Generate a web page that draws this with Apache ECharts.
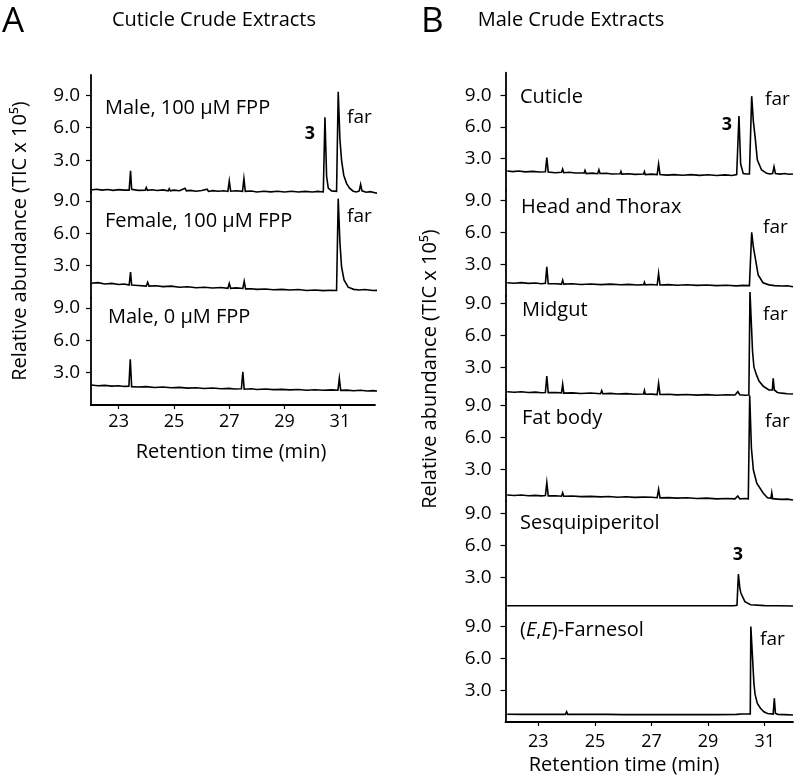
<!DOCTYPE html>
<html>
<head>
<meta charset="utf-8">
<script src="https://cdn.jsdelivr.net/npm/echarts@6/dist/echarts.min.js"></script>
<style>
html,body{margin:0;padding:0;background:#fff;}
#chart{width:796px;height:780px;}
</style>
</head>
<body>
<div id="chart"></div>
<script>
// ---------- DATA (retention time in min, abundance in TIC x 10^5) ----------
const xTicks = [23, 25, 27, 29, 31];
const yTicks = [3, 6, 9];

const panelATitle = 'Cuticle Crude Extracts';
const panelBTitle = 'Male Crude Extracts';
const panelANames = ['Male, 100 µM FPP', 'Female, 100 µM FPP', 'Male, 0 µM FPP'];
const panelBNames = ['Cuticle', 'Head and Thorax', 'Midgut', 'Fat body', 'Sesquipiperitol', '(E,E)-Farnesol'];

const aMale100 = [[22.0,0.23],[22.2,0.3],[22.4,0.22],[22.6,0.28],[22.8,0.2],[23.0,0.27],[23.2,0.22],[23.38,0.22],[23.43,2.0],[23.47,0.3],[23.7,0.2],[23.96,0.22],[24.0,0.45],[24.04,0.2],[24.2,0.26],[24.4,0.18],[24.6,0.24],[24.79,0.15],[24.83,0.35],[24.87,0.15],[25.0,0.22],[25.2,0.16],[25.4,0.4],[25.45,0.15],[25.6,0.2],[25.8,0.12],[26.0,0.18],[26.2,0.3],[26.25,0.1],[26.4,0.17],[26.6,0.12],[26.8,0.16],[26.95,0.1],[27.0,1.06],[27.05,0.12],[27.25,0.16],[27.48,0.1],[27.53,1.28],[27.58,0.1],[27.8,0.14],[28.0,0.05],[28.25,0.12],[28.5,0.06],[28.75,0.12],[29.0,0.05],[29.25,0.11],[29.5,0.05],[29.75,0.1],[30.0,0.05],[30.2,0.1],[30.4,0.05],[30.46,6.96],[30.52,1.5],[30.58,0.4],[30.7,0.15],[30.88,0.1],[30.94,9.33],[31.0,5.0],[31.06,3.0],[31.14,1.6],[31.24,0.85],[31.35,0.4],[31.48,0.12],[31.6,0.05],[31.7,0.15],[31.75,0.76],[31.8,0.15],[31.95,0.02],[32.1,0.08],[32.3,-0.05],[32.5,-0.1]];
const aFemale100 = [[22.0,1.36],[22.25,1.42],[22.5,1.3],[22.75,1.35],[23.0,1.25],[23.2,1.3],[23.38,1.2],[23.43,2.4],[23.47,1.2],[23.7,1.16],[24.0,1.1],[24.05,1.45],[24.1,1.1],[24.35,1.14],[24.6,1.05],[24.9,1.1],[25.2,1.0],[25.5,1.04],[25.8,0.95],[26.1,1.0],[26.4,0.93],[26.7,0.97],[26.95,0.9],[27.0,1.35],[27.05,0.9],[27.25,0.94],[27.49,0.88],[27.54,1.55],[27.59,0.85],[27.8,0.86],[28.0,0.8],[28.3,0.84],[28.6,0.76],[28.9,0.8],[29.2,0.74],[29.5,0.78],[29.8,0.7],[30.1,0.74],[30.4,0.68],[30.65,0.72],[30.88,0.7],[30.94,9.2],[31.0,5.2],[31.06,2.9],[31.15,1.67],[31.3,1.0],[31.5,0.8],[31.7,0.74],[31.9,0.78],[32.2,0.7],[32.5,0.72]];
const aMale0 = [[22.0,1.85],[22.25,1.78],[22.5,1.82],[22.75,1.75],[23.0,1.78],[23.2,1.72],[23.37,1.74],[23.42,4.23],[23.47,1.7],[23.7,1.66],[24.0,1.7],[24.3,1.62],[24.6,1.66],[24.9,1.6],[25.2,1.63],[25.5,1.56],[25.8,1.6],[26.1,1.53],[26.4,1.57],[26.7,1.5],[27.0,1.54],[27.2,1.48],[27.44,1.5],[27.49,3.08],[27.54,1.46],[27.8,1.5],[28.0,1.44],[28.3,1.48],[28.6,1.42],[28.9,1.45],[29.2,1.4],[29.5,1.43],[29.8,1.37],[30.1,1.41],[30.4,1.36],[30.7,1.4],[30.93,1.37],[30.98,2.47],[31.03,1.35],[31.25,1.38],[31.5,1.32],[31.75,1.36],[32.0,1.3],[32.2,1.33],[32.4,1.28]];

const bCuticle = [[21.9,1.84],[22.1,1.78],[22.3,1.84],[22.55,1.76],[22.8,1.8],[23.05,1.74],[23.25,1.77],[23.3,3.1],[23.35,1.75],[23.6,1.68],[23.82,1.72],[23.86,2.03],[23.9,1.68],[24.1,1.72],[24.3,1.65],[24.62,1.66],[24.65,1.9],[24.69,1.6],[24.9,1.64],[25.1,1.58],[25.14,1.95],[25.18,1.6],[25.4,1.62],[25.6,1.55],[25.89,1.58],[25.92,1.8],[25.95,1.55],[26.2,1.58],[26.4,1.52],[26.72,1.55],[26.75,1.78],[26.78,1.5],[27.0,1.54],[27.2,1.5],[27.25,2.5],[27.3,1.5],[27.55,1.45],[27.8,1.5],[28.1,1.44],[28.4,1.5],[28.7,1.43],[29.0,1.48],[29.3,1.42],[29.6,1.47],[29.85,1.42],[30.01,1.5],[30.09,7.03],[30.15,2.5],[30.24,1.6],[30.35,1.55],[30.46,1.55],[30.54,8.9],[30.6,6.5],[30.66,5.08],[30.74,2.88],[30.89,1.93],[31.07,1.62],[31.18,1.56],[31.28,1.6],[31.33,2.25],[31.38,1.6],[31.55,1.55],[31.7,1.6],[31.85,1.53],[32.0,1.56]];
const bHeadThorax = [[21.9,1.25],[22.15,1.2],[22.4,1.26],[22.65,1.19],[22.9,1.23],[23.1,1.16],[23.25,1.2],[23.3,2.76],[23.35,1.15],[23.6,1.16],[23.82,1.12],[23.86,1.5],[23.9,1.12],[24.2,1.15],[24.5,1.08],[24.85,1.13],[25.2,1.07],[25.55,1.12],[25.9,1.06],[26.2,1.1],[26.5,1.04],[26.72,1.07],[26.75,1.3],[26.78,1.05],[27.0,1.08],[27.2,1.04],[27.25,2.14],[27.3,1.04],[27.6,1.07],[27.9,1.02],[28.25,1.06],[28.6,1.0],[28.95,1.04],[29.3,0.98],[29.65,1.02],[30.0,0.96],[30.25,1.0],[30.46,0.98],[30.54,6.0],[30.6,4.6],[30.66,3.7],[30.77,1.98],[30.94,1.25],[31.15,1.05],[31.35,0.98],[31.6,0.94],[31.8,0.97],[32.0,0.88]];
const bMidgut = [[21.9,0.69],[22.15,0.64],[22.4,0.68],[22.65,0.61],[22.9,0.65],[23.1,0.59],[23.25,0.62],[23.3,2.17],[23.35,0.6],[23.6,0.62],[23.82,0.58],[23.86,1.39],[23.9,0.55],[24.2,0.58],[24.5,0.52],[24.85,0.56],[25.2,0.5],[25.24,0.8],[25.28,0.5],[25.55,0.53],[25.8,0.47],[26.1,0.51],[26.4,0.45],[26.72,0.47],[26.75,0.8],[26.78,0.45],[27.0,0.46],[27.2,0.42],[27.25,1.48],[27.3,0.42],[27.6,0.45],[27.9,0.39],[28.25,0.43],[28.6,0.37],[28.95,0.41],[29.3,0.36],[29.65,0.4],[29.95,0.38],[30.05,0.69],[30.12,0.4],[30.3,0.36],[30.44,0.38],[30.48,10.1],[30.57,4.5],[30.62,3.0],[30.72,2.2],[30.8,1.7],[30.95,1.2],[31.15,0.85],[31.27,0.85],[31.3,1.95],[31.34,0.85],[31.45,0.62],[31.6,0.55],[31.8,0.5],[32.0,0.47]];
const bFatBody = [[21.9,0.57],[22.15,0.52],[22.4,0.57],[22.65,0.5],[22.9,0.53],[23.1,0.48],[23.25,0.51],[23.3,1.73],[23.35,0.48],[23.6,0.5],[23.82,0.45],[23.86,0.78],[23.9,0.45],[24.2,0.47],[24.5,0.41],[24.85,0.44],[25.2,0.39],[25.5,0.42],[25.8,0.36],[26.1,0.4],[26.4,0.34],[26.72,0.37],[26.75,0.55],[26.78,0.33],[27.0,0.35],[27.2,0.31],[27.25,1.1],[27.3,0.3],[27.6,0.32],[27.9,0.27],[28.25,0.3],[28.6,0.24],[28.95,0.27],[29.3,0.2],[29.65,0.24],[29.95,0.2],[30.05,0.47],[30.12,0.2],[30.3,0.23],[30.42,0.2],[30.47,9.95],[30.53,5.0],[30.6,2.92],[30.72,1.67],[30.95,0.73],[31.1,0.3],[31.22,0.25],[31.25,0.78],[31.28,0.22],[31.45,0.18],[31.6,0.15],[31.8,0.18],[32.0,0.1]];
const bSesquipiperitol = [[21.9,0.31],[22.5,0.31],[23.0,0.3],[23.5,0.3],[24.0,0.3],[24.61,0.3],[24.65,0.4],[24.69,0.3],[25.1,0.3],[25.14,0.42],[25.18,0.3],[25.9,0.3],[25.93,0.38],[25.96,0.3],[26.8,0.3],[27.6,0.3],[28.4,0.3],[29.2,0.3],[29.9,0.3],[30.02,0.35],[30.07,3.3],[30.12,2.0],[30.16,1.48],[30.3,0.69],[30.5,0.4],[31.0,0.32],[31.5,0.3],[32.0,0.28]];
const bFarnesol = [[21.9,0.73],[22.4,0.72],[22.9,0.72],[23.42,0.72],[23.45,0.8],[23.48,0.72],[23.96,0.72],[24.0,0.97],[24.04,0.72],[24.6,0.72],[25.36,0.72],[25.4,0.8],[25.44,0.72],[26.0,0.7],[26.7,0.7],[27.3,0.7],[27.9,0.7],[28.6,0.7],[29.3,0.7],[30.0,0.72],[30.05,0.8],[30.2,0.75],[30.49,0.75],[30.51,9.0],[30.58,9.0],[30.62,3.6],[30.66,2.6],[30.74,1.76],[30.85,1.3],[30.97,0.97],[31.1,0.8],[31.3,0.75],[31.34,2.24],[31.38,0.8],[31.42,0.75],[31.44,0.95],[31.47,0.72],[31.7,0.7],[32.0,0.66]];

const panelAData = [aMale100, aFemale100, aMale0];
const panelBData = [bCuticle, bHeadThorax, bMidgut, bFatBody, bSesquipiperitol, bFarnesol];

// ---------- LAYOUT ----------
const FONT = '"Open Sans", "DejaVu Sans", sans-serif';
const layoutA = { left: 91, right: 421, xMin: 22.0, xMax: 32.27, scale: 10.8, bounds: [75, 192.5, 298, 405], labelMargin: 11, xLabelMargin: 8 };
const layoutB = { left: 505.5, right: 3, xMin: 21.84, xMax: 32.0, scale: 10.6, bounds: [72.7, 190.5, 296, 399, 501, 609, 722], labelMargin: 14, xLabelMargin: 11 };

const grids = [], xAxes = [], yAxes = [], series = [];

function addPanel(L, datasets) {
  const n = datasets.length;
  for (let i = 0; i < n; i++) {
    const top = L.bounds[i], h = L.bounds[i + 1] - L.bounds[i];
    const idx = grids.length;
    const isBottom = i === n - 1;
    grids.push({ left: L.left, right: L.right, top: top, height: h, containLabel: false });
    xAxes.push({
      type: 'value', gridIndex: idx, min: L.xMin, max: L.xMax, show: isBottom,
      axisLine: { show: true, lineStyle: { color: '#000', width: 1.8 } },
      axisTick: { show: true, customValues: xTicks, length: 4, lineStyle: { color: '#000', width: 1.2 } },
      axisLabel: { customValues: xTicks, color: '#000', fontSize: 18, fontFamily: FONT, margin: L.xLabelMargin },
      splitLine: { show: false }
    });
    yAxes.push({
      type: 'value', gridIndex: idx, min: 0, max: h / L.scale,
      axisLine: { show: true, lineStyle: { color: '#000', width: 1.8 } },
      axisTick: { show: true, customValues: yTicks, length: 5, lineStyle: { color: '#000', width: 1.2 } },
      axisLabel: { customValues: yTicks, color: '#000', fontSize: 19, fontFamily: FONT, margin: L.labelMargin,
                   formatter: v => Number(v).toFixed(1) },
      splitLine: { show: false }
    });
    series.push({
      type: 'line', xAxisIndex: idx, yAxisIndex: idx, data: datasets[i],
      symbol: 'none', showSymbol: false, clip: false, silent: true,
      lineStyle: { color: '#000', width: 1.6, join: 'miter' }
    });
  }
}
addPanel(layoutA, panelAData);
addPanel(layoutB, panelBData);

function txt(x, y, text, opt) {
  opt = opt || {};
  return {
    type: 'text', x: x, y: y, rotation: opt.rotation || 0, silent: true,
    style: {
      text: text, fontSize: opt.size || 20, fontFamily: FONT, fontWeight: opt.weight || 'normal',
      fill: '#000', align: opt.align || 'left', verticalAlign: 'middle', rich: opt.rich
    }
  };
}
const richE = { i: { fontStyle: 'italic', fontSize: 20, fontFamily: FONT, fill: '#000' } };
const yTitle = 'Relative abundance (TIC x 10⁵)';
const xTitle = 'Retention time (min)';

const graphics = [
  txt(2, 22, 'A', { size: 35 }),
  txt(214, 20, panelATitle, { align: 'center' }),
  txt(421, 22, 'B', { size: 35 }),
  txt(571, 20, panelBTitle, { align: 'center' }),
  // Panel A sub-labels
  txt(105, 108, panelANames[0]),
  txt(105, 221, panelANames[1]),
  txt(108, 317, panelANames[2]),
  txt(310, 134, '3', { align: 'center', weight: 'bold', size: 18 }),
  txt(347, 118, 'far', { size: 19 }),
  txt(347, 217, 'far', { size: 19 }),
  // Panel B sub-labels
  txt(520, 97, panelBNames[0]),
  txt(521, 207, panelBNames[1]),
  txt(522, 310, panelBNames[2]),
  txt(522, 418, panelBNames[3]),
  txt(520, 523, panelBNames[4]),
  txt(520, 630, '({i|E},{i|E})-Farnesol', { rich: richE }),
  txt(727, 125, '3', { align: 'center', weight: 'bold', size: 18 }),
  txt(765, 100, 'far', { size: 19 }),
  txt(763, 228, 'far', { size: 19 }),
  txt(763, 315, 'far', { size: 19 }),
  txt(765, 422, 'far', { size: 19 }),
  txt(738, 555, '3', { align: 'center', weight: 'bold', size: 18 }),
  txt(760, 640, 'far', { size: 19 }),
  // axis titles
  txt(20, 241, yTitle, { align: 'center', rotation: Math.PI / 2 }),
  txt(430, 369, yTitle, { align: 'center', rotation: Math.PI / 2 }),
  txt(231, 452, xTitle, { align: 'center' }),
  txt(624, 765, xTitle, { align: 'center' })
];

const chart = echarts.init(document.getElementById('chart'), null, { renderer: 'canvas' });
chart.setOption({
  animation: false,
  backgroundColor: '#fff',
  grid: grids,
  xAxis: xAxes,
  yAxis: yAxes,
  series: series,
  graphic: graphics
});
</script>
</body>
</html>
